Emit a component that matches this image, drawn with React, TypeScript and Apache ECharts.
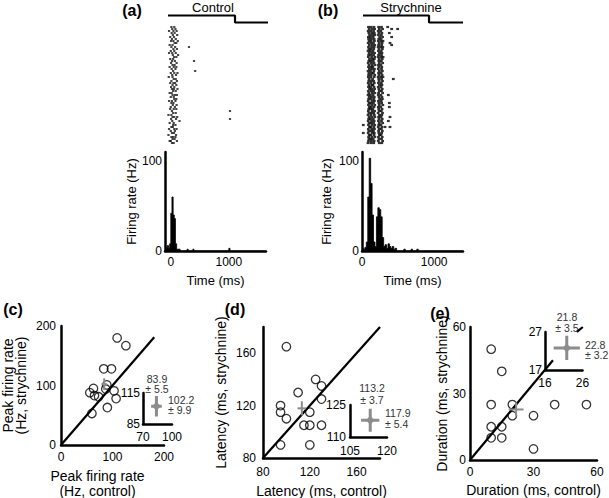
import React, { useEffect, useRef } from 'react';
import * as echarts from 'echarts';

const FONT = '"Liberation Sans", Arial, Helvetica, sans-serif';

// ---------- (a)/(b) raster: spike times (ms) per trial ----------
const rasterControl: number[][] = [
  [10, 60], [25, 80], [-30, 45, 100], [15, 65], [35, 110], [-10, 55], [20, 85], [5, 45, 120], [65, 95], [-20, 30],
  [10, 75, 313], [45, 105], [0, 60], [-30, 25, 85], [35, 125], [55, 95], [-10, 40], [20, 70, 400], [5, 100], [30, 65],
  [-20, 50, 95], [15, 80], [40, 420], [0, 60, 115], [25, 90], [-35, 30], [50, 85], [10, 105], [-10, 45, 75], [30, 95],
  [5, 60], [20, 55, 115], [40, 85], [-20, 15], [30, 70, 105], [0, 50], [60, 95], [-30, 20, 80], [10, 45], [35, 100],
  [0, 70], [-10, 50, 95], [20, 1020], [40, 85], [-40, 10], [30, 60, 110], [5, 90, 1020], [25, 150], [-20, 50], [40, 80],
  [10, 35], [-30, 60, 100], [0, 70], [20, 55], [-40, 90], [10, 40, 80], [30, 65], [-20, 0, 105], [20, 50],
];
const rasterStrych: number[][] = [
  [90, 125, 165, 230, 270, 356], [100, 140, 175, 240, 285, 411, 494], [85, 120, 160, 225, 260], [95, 135, 170, 235, 275, 379],
  [105, 145, 178, 228, 268], [88, 118, 155, 245, 285, 411], [92, 130, 168, 232, 265], [98, 128, 172, 226, 262, 290],
  [86, 122, 158, 238, 278, 388], [102, 142, 176, 230, 272, 411], [90, 132, 168, 224, 258, 288], [96, 126, 162, 236, 282],
  [84, 116, 152, 228, 266], [100, 138, 174, 242, 276], [92, 124, 160, 230, 270], [88, 134, 178, 226, 264, 292],
  [104, 144, 170, 238, 280], [94, 120, 156, 232, 268], [86, 130, 166, 240, 286], [98, 140, 180, 228, 262],
  [90, 126, 150, 234, 274], [102, 136, 172, 226, 270], [84, 118, 164, 240, 282], [96, 132, 158, 230, 266],
  [92, 128, 176, 236, 278], [88, 122, 168, 224, 260, 290], [100, 146, 232, 272, 434], [94, 130, 162, 238, 284],
  [86, 124, 170, 228, 268], [98, 138, 152, 242, 276], [90, 120, 166, 226, 264], [104, 134, 174, 234, 280],
  [88, 128, 160, 240, 270], [96, 142, 178, 230, 286], [84, 116, 154, 226, 262, 365], [100, 132, 170, 236, 276],
  [92, 126, 164, 244, 282], [86, 138, 172, 228, 266], [98, 122, 158, 234, 272, 379], [90, 134, 176, 240, 288],
  [102, 128, 166, 226, 260, 379], [94, 120, 150, 232, 278], [88, 140, 174, 238, 268], [96, 130, 162, 224, 284],
  [84, 124, 170, 242, 274], [100, 136, 178, 230, 264, 388], [92, 118, 156, 236, 280], [86, 132, 168, 228, 270, 365],
  [98, 126, 160, 240, 286], [18, 90, 138, 176, 232, 262], [104, 122, 164, 226, 276, 319, 388], [88, 134, 172, 238, 268],
  [94, 128, 158, 230, 282], [18, 86, 140, 170, 234, 272], [100, 120, 166, 242, 264], [92, 136, 178, 228, 280],
  [96, 124, 154, 236, 270], [90, 130, 168, 226, 286], [84, 126, 162, 240, 274],
];
// stimulus trace (ms) and its two levels (raster row units, drawn above the trials)
const stimControlTime = [-48, 1106, 1106, 1674];
const stimStrychTime = [14, 929, 929, 1400];
const stimLevel = [-5.25, -5.25, -1.75, -1.75];

// ---------- (a)/(b) PSTH: bin start (ms) and firing rate (Hz) ----------
const histControlTime = [-100, -80, -60, -40, -20, 0, 20, 40, 60, 80, 100, 120, 140, 160, 260, 280, 300, 380, 400, 980, 1000, 1020, 1640];
const histControlRate = [0, 4, 6, 3, 8, 42, 60, 40, 36, 8, 2, 2, 2, 0, 0, 2, 0, 2, 0, 0, 3, 0, 0];
const histStrychTime = [0, 20, 40, 60, 80, 100, 120, 140, 160, 180, 200, 220, 240, 260, 280, 300, 320, 340, 360, 380, 400, 420, 440, 460, 480, 580, 600, 680, 700, 760, 780, 1400];
const histStrychRate = [3, 2, 4, 10, 60, 103, 75, 40, 10, 5, 38, 48, 46, 38, 15, 5, 7, 3, 8, 5, 3, 5, 2, 3, 0, 2, 0, 2, 0, 2, 0, 0];
const timeTicks = [0, 1000];
const rateTicks = [0, 100];

// ---------- (c) peak firing rate ----------
const peakControl = [109, 126, 83, 98, 89, 103, 87, 63, 56, 65, 73, 107, 90, 60];
const peakStrych = [180, 167, 128, 128, 101, 91, 94, 95, 88, 83, 81, 78, 63, 53];
const peakTicks = [0, 100, 200];
const peakInsetX = [70, 100];
const peakInsetY = [85, 115];
const peakDiag = [0, 181];

// ---------- (d) latency ----------
const latControl = [100, 125, 110, 130, 130, 95, 95, 100, 120, 115, 120, 130, 95, 120];
const latStrych = [165, 140, 130, 135, 125, 120, 115, 110, 115, 105, 105, 105, 90, 90];
const latTicks = [80, 120, 160];
const latInsetX = [105, 120];
const latInsetY = [110, 125];
const latDiag = [80, 180];

// ---------- (e) duration ----------
const durControl = [10, 15, 10, 20, 20, 30, 40, 55, 10, 15, 10, 15, 30];
const durStrych = [50, 40, 25, 25, 20, 20, 25, 25, 15, 15, 10, 10, 5];
const durTicks = [0, 30, 60];
const durInsetX = [16, 26];
const durInsetY = [17, 27];
const durDiagX = [0, 39.2];
const durDiagY = [0, 45];
const durDiagTopX = [50.5, 53.3];
const durDiagTopY = [57.8, 60];

// means ± SEM for (c), (d), (e)
const meanControl = [83.9, 113.2, 21.8];
const semControl = [5.5, 3.7, 3.5];
const meanStrych = [102.2, 117.9, 22.8];
const semStrych = [9.9, 5.4, 3.2];

const GRAY = '#8c8c8c';

function axis(gridIndex: number, min: number, max: number, labels: number[] | null, margin = 5, extra: any = {}) {
  return {
    type: 'value',
    gridIndex,
    min,
    max,
    axisLine: { show: true, onZero: false, lineStyle: { color: '#000', width: 2.5 } },
    axisTick: { show: false },
    splitLine: { show: false },
    axisLabel: labels
      ? {
          show: true,
          customValues: labels,
          color: '#000',
          fontSize: 12,
          fontFamily: FONT,
          margin,
          formatter: (v: number) => String(v),
        }
      : { show: false },
    nameTextStyle: { color: '#000', fontSize: 13, fontFamily: FONT },
    ...extra,
  };
}

function hiddenAxis(gridIndex: number, min: number, max: number, inverse = false) {
  return { type: 'value', gridIndex, min, max, inverse, show: false, splitLine: { show: false } };
}

function rasterPoints(rows: number[][]) {
  const pts: number[][] = [];
  rows.forEach((row, i) => row.forEach((t) => pts.push([t, i + 0.5])));
  return pts;
}

function zip(a: number[], b: number[]) {
  return a.map((v, i) => [v, b[i]]);
}

function lineSeries(xi: number, data: number[][], color: string, width: number, extra: any = {}) {
  return {
    type: 'line',
    xAxisIndex: xi,
    yAxisIndex: xi,
    data,
    symbol: 'none',
    silent: true,
    lineStyle: { color, width, cap: 'butt' },
    ...extra,
  };
}

function errorCross(xi: number, k: number, width: number) {
  const mx = meanControl[k];
  const my = meanStrych[k];
  return [
    lineSeries(xi, [[mx - semControl[k], my], [mx + semControl[k], my]], GRAY, width),
    lineSeries(xi, [[mx, my - semStrych[k]], [mx, my + semStrych[k]]], GRAY, width),
  ];
}

function insetMarker(xi: number, k: number) {
  return [
    ...errorCross(xi, k, 3),
    {
      type: 'scatter',
      xAxisIndex: xi,
      yAxisIndex: xi,
      data: [[meanControl[k], meanStrych[k]]],
      symbol: 'diamond',
      symbolSize: 9,
      itemStyle: { color: '#7f7f7f' },
    },
  ];
}

function circles(xi: number, xs: number[], ys: number[]) {
  return {
    type: 'scatter',
    xAxisIndex: xi,
    yAxisIndex: xi,
    data: zip(xs, ys),
    symbol: 'circle',
    symbolSize: 8.5,
    itemStyle: { color: 'rgba(0,0,0,0)', borderColor: '#000', borderWidth: 1.3 },
  };
}

function histSeries(xi: number, t: number[], r: number[]) {
  return lineSeries(xi, zip(t, r), '#000', 0.8, {
    step: 'end',
    areaStyle: { color: '#000', opacity: 1 },
  });
}

function text(x: number, y: number, str: string, size: number, opts: any = {}) {
  return {
    type: 'text',
    x,
    y,
    silent: true,
    style: {
      text: str,
      fill: opts.fill || '#000',
      font: `${opts.bold ? 'bold ' : ''}${size}px ${FONT}`,
      align: opts.align || 'center',
      verticalAlign: 'middle',
      lineHeight: opts.lineHeight || size + 2,
    },
  };
}

function meanLabel(k: number) {
  return [
    `${meanControl[k].toFixed(1)}\n± ${semControl[k].toFixed(1)}`,
    `${meanStrych[k].toFixed(1)}\n± ${semStrych[k].toFixed(1)}`,
  ];
}

function buildOption() {
  const pxPerMsA = 101 / 1740;
  const pxPerMsB = 101 / 1400;
  const rasterMaxA = -100 + 105 / pxPerMsA;
  const rasterMaxB = 103 / pxPerMsB;

  const grids = [
    { left: 165, top: 12, width: 105, height: 136 }, // 0 raster a
    { left: 165, top: 152, width: 101, height: 99 }, // 1 hist a
    { left: 362, top: 12, width: 103, height: 136 }, // 2 raster b
    { left: 362, top: 152, width: 101, height: 99 }, // 3 hist b
    { left: 61, top: 326, width: 103, height: 119 }, // 4 main c
    { left: 143, top: 393, width: 29, height: 31 }, // 5 inset c
    { left: 263, top: 327, width: 117, height: 131 }, // 6 main d
    { left: 350, top: 405, width: 37, height: 32 }, // 7 inset d
    { left: 470, top: 327, width: 127, height: 133 }, // 8 main e
    { left: 545, top: 332, width: 37.5, height: 38 }, // 9 inset e
  ].map((g) => ({ ...g, containLabel: false, outerBoundsMode: 'none' }));

  const nameY = (name: string, gap: number, size = 14, lineHeight = 14) => ({
    name,
    nameLocation: 'middle',
    nameRotate: 90,
    nameGap: gap,
    nameTextStyle: { color: '#000', fontSize: size, fontFamily: FONT, lineHeight },
  });
  const nameX = (name: string, gap: number, size = 14, extraStyle: any = {}) => ({
    name,
    nameLocation: 'middle',
    nameGap: gap,
    nameTextStyle: { color: '#000', fontSize: size, fontFamily: FONT, lineHeight: size, ...extraStyle },
  });

  const xAxis = [
    hiddenAxis(0, -100, rasterMaxA),
    axis(1, -100, 1640, timeTicks, 5, nameX('Time (ms)', 23, 13)),
    hiddenAxis(2, 0, rasterMaxB),
    axis(3, 0, 1400, timeTicks, 5, nameX('Time (ms)', 23, 13)),
    axis(4, 0, 200, peakTicks, 6, nameX('Peak firing rate\n(Hz, control)', 24, 14, { lineHeight: 14.5, padding: [0, 30, 0, 0] })),
    axis(5, 70, 100, peakInsetX, 7),
    axis(6, 80, 180, latTicks, 8, nameX('Latency (ms, control)', 26)),
    axis(7, 105, 120, latInsetX, 8),
    axis(8, 0, 60, durTicks, 6, nameX('Duration (ms, control)', 23)),
    axis(9, 16, 26, durInsetX, 7),
  ];
  const yAxis = [
    hiddenAxis(0, -7, 61, true),
    axis(1, 0, 110, rateTicks, 3, nameY('Firing rate (Hz)', 26, 13, 13)),
    hiddenAxis(2, -7, 61, true),
    axis(3, 0, 110, rateTicks, 3, nameY('Firing rate (Hz)', 29, 13, 13)),
    axis(4, 0, 200, peakTicks, 5, nameY('Peak firing rate\n(Hz, strychnine)', 34, 14, 13)),
    axis(5, 85, 115, peakInsetY, 3),
    axis(6, 80, 180, latTicks, 7, nameY('Latency (ms, strychnine)', 35)),
    axis(7, 110, 125, latInsetY, 4),
    axis(8, 0, 60, durTicks, 4, nameY('Duration (ms, strychnine)', 19)),
    axis(9, 17, 27, durInsetY, 3),
  ];

  const rasterScatter = (xi: number, rows: number[][], size: number[]) => ({
    type: 'scatter',
    xAxisIndex: xi,
    yAxisIndex: xi,
    data: rasterPoints(rows),
    symbol: 'rect',
    symbolSize: size,
    itemStyle: { color: '#000' },
    silent: true,
  });

  const series: any[] = [
    rasterScatter(0, rasterControl, [2.2, 1.8]),
    lineSeries(0, zip(stimControlTime, stimLevel), '#000', 2.2),
    histSeries(1, histControlTime, histControlRate),
    rasterScatter(2, rasterStrych, [2.8, 2.2]),
    lineSeries(2, zip(stimStrychTime, stimLevel), '#000', 2.2),
    histSeries(3, histStrychTime, histStrychRate),

    lineSeries(4, zip(peakDiag, peakDiag), '#000', 2.2),
    circles(4, peakControl, peakStrych),
    ...errorCross(4, 0, 2),
    ...insetMarker(5, 0),

    lineSeries(6, zip(latDiag, latDiag), '#000', 2.2),
    circles(6, latControl, latStrych),
    ...errorCross(6, 1, 2),
    ...insetMarker(7, 1),

    lineSeries(8, zip(durDiagX, durDiagY), '#000', 2.2),
    lineSeries(8, zip(durDiagTopX, durDiagTopY), '#000', 2.2),
    circles(8, durControl, durStrych),
    ...errorCross(8, 2, 2),
    ...insetMarker(9, 2),
  ];

  const [c1, c2] = meanLabel(0);
  const [d1, d2] = meanLabel(1);
  const [e1, e2] = meanLabel(2);
  const lab = { fill: '#333' };

  const graphic = [
    text(132, 10, '(a)', 16, { bold: true }),
    text(328, 10, '(b)', 16, { bold: true }),
    text(13, 309, '(c)', 16, { bold: true }),
    text(235, 309, '(d)', 16, { bold: true }),
    text(440, 313, '(e)', 16, { bold: true }),
    text(213, 7, 'Control', 13),
    text(411, 7, 'Strychnine', 13),
    text(157, 384, c1, 10.5, { ...lab, lineHeight: 10.5 }),
    text(168, 405, c2, 10.5, { ...lab, align: 'left', lineHeight: 10.5 }),
    text(372, 394, d1, 10.5, { ...lab, lineHeight: 12 }),
    text(385, 418.5, d2, 10.5, { ...lab, align: 'left', lineHeight: 11 }),
    text(567, 322.5, e1, 10.5, { ...lab, lineHeight: 11 }),
    text(585, 350, e2, 10.5, { ...lab, align: 'left', lineHeight: 10.5 }),
  ];

  return {
    animation: false,
    backgroundColor: '#fff',
    textStyle: { fontFamily: FONT },
    grid: grids,
    xAxis,
    yAxis,
    series,
    graphic,
  };
}

export default function App() {
  const ref = useRef<HTMLDivElement>(null);
  useEffect(() => {
    document.body.style.margin = '0';
    const chart = echarts.init(ref.current!, null, { renderer: 'svg' });
    chart.setOption(buildOption() as any);
    return () => chart.dispose();
  }, []);
  return <div ref={ref} style={{ width: 609, height: 498, background: '#fff' }} />;
}
